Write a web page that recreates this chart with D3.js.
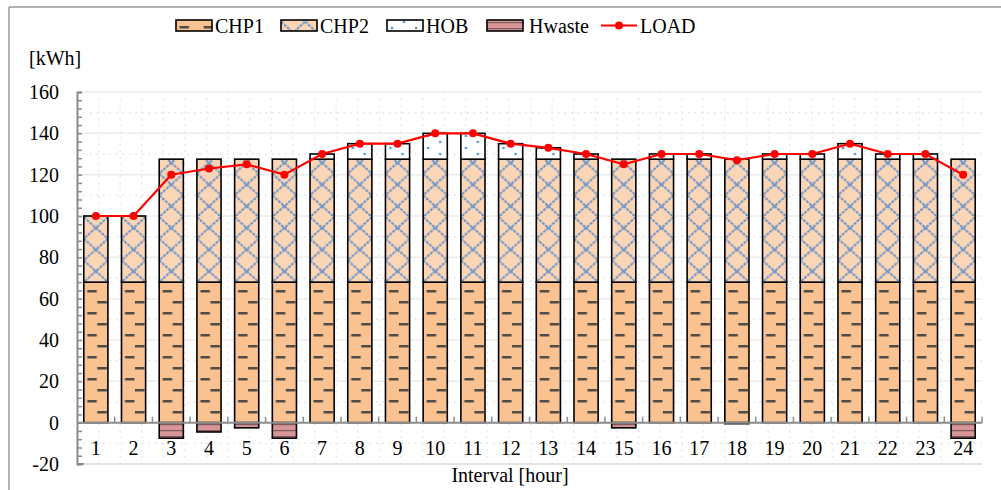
<!DOCTYPE html>
<html>
<head>
<meta charset="utf-8">
<script src="https://cdn.jsdelivr.net/npm/d3@7"></script>
<style>
  body { margin: 0; background: #fff; }
</style>
</head>
<body>
<div id="chart"></div>
<script>
// Data
const intervals = ["1","2","3","4","5","6","7","8","9","10","11","12","13","14","15","16","17","18","19","20","21","22","23","24"];
const chp1 = [68,68,68,68,68,68,68,68,68,68,68,68,68,68,68,68,68,68,68,68,68,68,68,68];
const chp2 = [32,32,59.5,59.5,59.5,59.5,59.5,59.5,59.5,59.5,59.5,59.5,59.5,59.5,59.5,59.5,59.5,59.5,59.5,59.5,59.5,59.5,59.5,59.5];
const hob = [0,0,0,0,0,0,2.5,7.5,7.5,12.5,12.5,7.5,5.5,2.5,0,2.5,2.5,0,2.5,2.5,7.5,2.5,2.5,0];
const hwaste = [0,0,-7.5,-4.5,-2.5,-7.5,0,0,0,0,0,0,0,0,-2.5,0,0,-0.5,0,0,0,0,0,-7.5];
const load = [100,100,120,123,125,120,130,135,135,140,140,135,133,130,125,130,130,127,130,130,135,130,130,120];
const yTicks = [-20,0,20,40,60,80,100,120,140,160];
const legendItems = ["CHP1","CHP2","HOB","Hwaste","LOAD"];

const FONT = "'Liberation Serif', Tinos, 'Times New Roman', 'DejaVu Serif', serif";
const width = 1001, height = 490;
const svg = d3.select("#chart").append("svg")
  .attr("width", width)
  .attr("height", height)
  .attr("font-family", FONT)
  .style("display", "block");

// scales
const x = d3.scaleBand().domain(intervals).range([77, 982]).paddingInner(0.36).paddingOuter(0.18);
const y = d3.scaleLinear().domain([-20, 160]).range([464, 92]);
const bw = x.bandwidth();

// patterns for the bar fills (user space of each bar, so they line up per bar)
const defs = svg.append("defs");

const p1 = defs.append("pattern").attr("id", "pChp1")
  .attr("patternUnits", "userSpaceOnUse").attr("width", bw).attr("height", 22).attr("y", 0);
p1.append("rect").attr("width", bw).attr("height", 22).attr("fill", "#FAC191");
p1.append("rect").attr("x", 3.5).attr("y", 4).attr("width", 9.5).attr("height", 2.5).attr("fill", "#4f4b47");
p1.append("rect").attr("x", 13.5).attr("y", 15).attr("width", 9.5).attr("height", 2.5).attr("fill", "#4f4b47");

const p2 = defs.append("pattern").attr("id", "pChp2")
  .attr("patternUnits", "userSpaceOnUse").attr("width", bw).attr("height", 21.7);
p2.append("rect").attr("width", bw).attr("height", 21.7).attr("fill", "#FBD6B6");
p2.append("path").attr("d", `M0,0L${bw},21.7M${bw},0L0,21.7`)
  .attr("stroke", "#6A93CA").attr("stroke-width", 2).attr("stroke-dasharray", "3,1");

const p3 = defs.append("pattern").attr("id", "pHob")
  .attr("patternUnits", "userSpaceOnUse").attr("width", bw).attr("height", 12);
p3.append("rect").attr("width", bw).attr("height", 12).attr("fill", "#fff");
p3.append("circle").attr("cx", 5).attr("cy", 4).attr("r", 1.3).attr("fill", "#5B8FD0");
p3.append("circle").attr("cx", 17).attr("cy", 10).attr("r", 1.3).attr("fill", "#5B8FD0");

const p4 = defs.append("pattern").attr("id", "pHwaste")
  .attr("patternUnits", "userSpaceOnUse").attr("width", 8).attr("height", 6);
p4.append("rect").attr("width", 8).attr("height", 6).attr("fill", "#D99698");
p4.append("rect").attr("y", 4).attr("width", 8).attr("height", 1.2).attr("fill", "#7a5a5a");

// outer frame
svg.append("line").attr("x1", 9).attr("x2", width).attr("y1", 7).attr("y2", 7)
  .attr("stroke", "#9a9a9a").attr("stroke-width", 1.5);
svg.append("line").attr("x1", 9).attr("x2", 9).attr("y1", 7).attr("y2", height)
  .attr("stroke", "#9a9a9a").attr("stroke-width", 1.5);

// gridlines: solid every 20, dotted in between, faint dotted verticals
const grid = svg.append("g");
grid.selectAll("line.v")
  .data(d3.range(77 + 21.6, 982, 21.6))
  .enter().append("line")
    .attr("x1", d => d).attr("x2", d => d)
    .attr("y1", 92).attr("y2", 464)
    .attr("stroke", "#e4e4e4").attr("stroke-width", 1.5).attr("stroke-dasharray", "1.5,5");
grid.selectAll("line.hm")
  .data(d3.range(-10, 160, 20))
  .enter().append("line")
    .attr("x1", 77).attr("x2", 982)
    .attr("y1", d => y(d)).attr("y2", d => y(d))
    .attr("stroke", "#e2e2e2").attr("stroke-width", 1.5).attr("stroke-dasharray", "1.5,5");
grid.selectAll("line.h")
  .data(yTicks.filter(d => d !== 0))
  .enter().append("line")
    .attr("x1", 77).attr("x2", 982)
    .attr("y1", d => y(d)).attr("y2", d => y(d))
    .attr("stroke", "#ececec").attr("stroke-width", 1.5);

// stacked bars
const series = [
  { key: "CHP1", vals: chp1, base: i => 0, fill: "url(#pChp1)" },
  { key: "CHP2", vals: chp2, base: i => chp1[i], fill: "url(#pChp2)" },
  { key: "HOB", vals: hob, base: i => chp1[i] + chp2[i], fill: "url(#pHob)" },
  { key: "Hwaste", vals: hwaste, base: i => 0, fill: "url(#pHwaste)" }
];

series.forEach(s => {
  svg.append("g")
    .selectAll("rect")
    .data(s.vals.map((v, i) => ({ i, v, b: s.base(i) })).filter(d => d.v !== 0))
    .enter().append("rect")
      .attr("transform", d => `translate(${x(intervals[d.i])},0)`)
      .attr("x", 0)
      .attr("width", bw)
      .attr("y", d => y(Math.max(d.b, d.b + d.v)))
      .attr("height", d => Math.abs(y(d.b) - y(d.b + d.v)))
      .attr("fill", s.fill)
      .attr("stroke", "#000")
      .attr("stroke-width", 1.6);
});

// y axis
const yAxis = svg.append("g").attr("transform", "translate(77,0)")
  .call(d3.axisRight(y).tickValues(d3.range(-20, 161, 4)).tickSize(5).tickFormat(""));
yAxis.select(".domain").attr("stroke", "#8c8c8c").attr("stroke-width", 2);
yAxis.selectAll(".tick line").attr("stroke", "#8c8c8c").attr("stroke-width", 1.5);

svg.append("g").selectAll("text")
  .data(yTicks)
  .enter().append("text")
    .attr("x", 59).attr("y", d => y(d) + 7)
    .attr("text-anchor", "end")
    .attr("font-size", 20)
    .text(d => d);

// x axis line at zero with upward ticks at category boundaries
svg.append("line").attr("x1", 77).attr("x2", 982).attr("y1", y(0)).attr("y2", y(0))
  .attr("stroke", "#8c8c8c").attr("stroke-width", 2);
svg.append("g").selectAll("line")
  .data(intervals.slice(1).concat(["end"]))
  .enter().append("line")
    .attr("x1", d => d === "end" ? 982 : x(d) - x.step() * x.paddingInner() / 2)
    .attr("x2", d => d === "end" ? 982 : x(d) - x.step() * x.paddingInner() / 2)
    .attr("y1", y(0)).attr("y2", y(0) - 6)
    .attr("stroke", "#8c8c8c").attr("stroke-width", 1.5);
svg.append("line").attr("x1", 77).attr("x2", 982).attr("y1", y(-20)).attr("y2", y(-20))
  .attr("stroke", "#e4e4e4").attr("stroke-width", 2);
svg.append("line").attr("x1", 77).attr("x2", 84).attr("y1", y(-20)).attr("y2", y(-20))
  .attr("stroke", "#8c8c8c").attr("stroke-width", 2);

svg.append("g").selectAll("text")
  .data(intervals)
  .enter().append("text")
    .attr("x", d => x(d) + bw / 2)
    .attr("y", 455)
    .attr("text-anchor", "middle")
    .attr("font-size", 20)
    .text(d => d);

// LOAD line
const line = d3.line()
  .x((d, i) => x(intervals[i]) + bw / 2)
  .y(d => y(d));
svg.append("path").datum(load)
  .attr("d", line)
  .attr("fill", "none")
  .attr("stroke", "#FF0000")
  .attr("stroke-width", 2.2);
svg.append("g").selectAll("circle")
  .data(load)
  .enter().append("circle")
    .attr("cx", (d, i) => x(intervals[i]) + bw / 2)
    .attr("cy", d => y(d))
    .attr("r", 4)
    .attr("fill", "#FF0000");

// axis titles
svg.append("text").attr("x", 29).attr("y", 65).attr("font-size", 20).text("[kWh]");
svg.append("text").attr("x", 510).attr("y", 482).attr("text-anchor", "middle")
  .attr("font-size", 20).text("Interval [hour]");

// legend
const legendX = [176, 281, 387, 487, 601];
const legendFill = ["url(#pChp1)", "url(#pChp2)", "url(#pHob)", "url(#pHwaste)", null];
const legend = svg.append("g");
legendItems.forEach((name, i) => {
  const g = legend.append("g").attr("transform", `translate(${legendX[i]},0)`);
  if (legendFill[i]) {
    g.append("rect").attr("x", 0).attr("y", 20).attr("width", 36).attr("height", 11)
      .attr("fill", legendFill[i]).attr("stroke", "#000").attr("stroke-width", 1.6);
  } else {
    g.append("line").attr("x1", 0).attr("x2", 36).attr("y1", 25.5).attr("y2", 25.5)
      .attr("stroke", "#FF0000").attr("stroke-width", 2.2);
    g.append("circle").attr("cx", 18).attr("cy", 25.5).attr("r", 4).attr("fill", "#FF0000");
  }
  g.append("text").attr("x", i === 3 ? 42 : 39).attr("y", 33).attr("font-size", 20).text(name);
});
</script>
</body>
</html>
